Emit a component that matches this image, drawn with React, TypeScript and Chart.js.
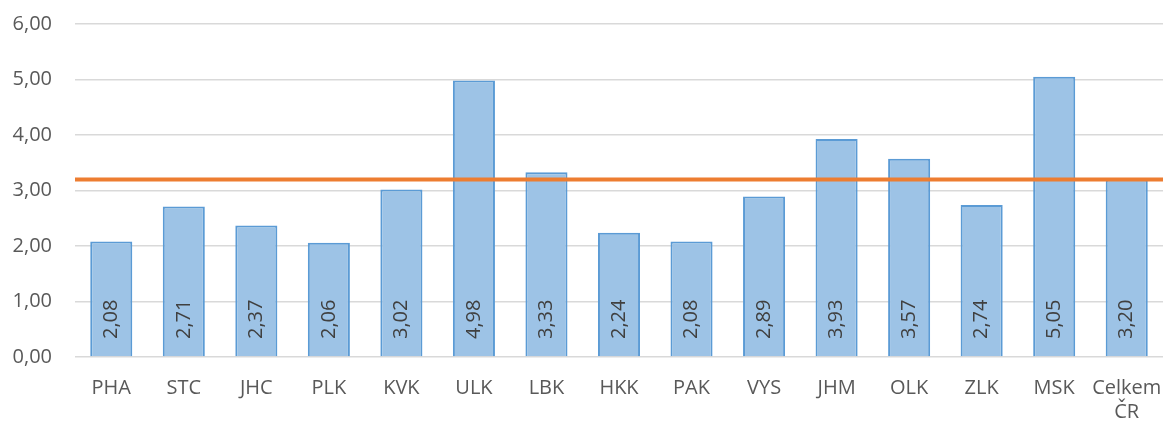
import React, { useEffect, useRef } from "react";
import { Chart, registerables } from "chart.js";

Chart.register(...registerables);

const categories: (string | string[])[] = [
  "PHA", "STC", "JHC", "PLK", "KVK", "ULK", "LBK", "HKK", "PAK", "VYS", "JHM", "OLK", "ZLK", "MSK", ["Celkem", "ČR"],
];
const values: number[] = [2.08, 2.71, 2.37, 2.06, 3.02, 4.98, 3.33, 2.24, 2.08, 2.89, 3.93, 3.57, 2.74, 5.05, 3.2];
const referenceValue = 3.2;
const yTicks: number[] = [0, 1, 2, 3, 4, 5, 6];

const fmt = (v: number) => v.toFixed(2).replace(".", ",");
const FONT = "'Open Sans', sans-serif";

const refLinePlugin = {
  id: "refLine",
  afterDatasetsDraw(chart: any) {
    const ctx = chart.ctx;
    const y = chart.scales.y.getPixelForValue(referenceValue);
    const { left, right } = chart.chartArea;
    ctx.save();
    ctx.strokeStyle = "#ED7D31";
    ctx.lineWidth = 4;
    ctx.beginPath();
    ctx.moveTo(left, y);
    ctx.lineTo(right, y);
    ctx.stroke();
    ctx.restore();
  },
};

const labelPlugin = {
  id: "barLabels",
  afterDatasetsDraw(chart: any) {
    const meta = chart.getDatasetMeta(0);
    const ctx = chart.ctx;
    const base = chart.scales.y.getPixelForValue(0);
    ctx.save();
    ctx.fillStyle = "#404040";
    ctx.font = `20px ${FONT}`;
    ctx.textAlign = "left";
    ctx.textBaseline = "middle";
    meta.data.forEach((bar: any, i: number) => {
      ctx.save();
      ctx.translate(bar.x, base - 18);
      ctx.rotate(-Math.PI / 2);
      ctx.fillText(fmt(values[i]), 0, 0);
      ctx.restore();
    });
    ctx.restore();
  },
};

export default function App() {
  const ref = useRef<HTMLCanvasElement>(null);
  useEffect(() => {
    if (!ref.current) return;
    const chart = new Chart(ref.current, {
      type: "bar",
      data: {
        labels: categories as any,
        datasets: [
          {
            data: values,
            backgroundColor: "#9DC3E6",
            borderColor: "#5B9BD5",
            borderWidth: 2,
            barPercentage: 0.58,
            categoryPercentage: 1,
          } as any,
        ],
      },
      options: {
        animation: false,
        responsive: true,
        maintainAspectRatio: false,
        layout: { padding: { top: 24, right: 2, left: 0, bottom: 0 } },
        plugins: { legend: { display: false }, tooltip: { enabled: false } },
        scales: {
          x: {
            grid: { display: false },
            border: { display: false },
            ticks: { color: "#595959", font: { family: FONT, size: 20 }, padding: 11, maxRotation: 0, autoSkip: false },
            afterFit: (s: any) => { s.height = 66; s.paddingLeft = 0; s.paddingRight = 0; },
          },
          y: {
            min: 0,
            max: 6,
            afterBuildTicks: (s: any) => { s.ticks = yTicks.map((v) => ({ value: v })); },
            grid: { color: "#D9D9D9", lineWidth: 1.5, drawTicks: false },
            border: { display: false },
            ticks: { color: "#595959", font: { family: FONT, size: 20 }, padding: 23, callback: (v: any) => fmt(Number(v)) },
            afterFit: (s: any) => { s.width = 75; s.paddingTop = 0; s.paddingBottom = 0; },
          },
        },
      },
      plugins: [labelPlugin, refLinePlugin],
    });
    return () => chart.destroy();
  }, []);
  return (
    <div style={{ position: "absolute", left: 0, top: 0, width: 1165, height: 423 }}>
      <canvas ref={ref} />
    </div>
  );
}
